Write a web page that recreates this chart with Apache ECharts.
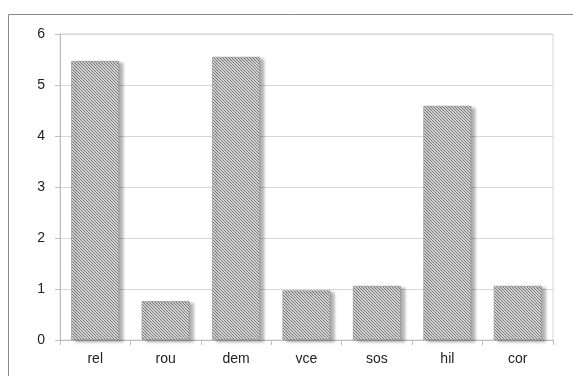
<!DOCTYPE html>
<html>
<head>
<meta charset="utf-8">
<script src="https://cdn.jsdelivr.net/npm/echarts@6/dist/echarts.min.js"></script>
<style>
  html, body { margin: 0; padding: 0; background: #fff; }
  #chart { width: 573px; height: 376px; }
</style>
</head>
<body>
<div id="chart"></div>
<script>
// Categories and values
const categories = ['rel', 'rou', 'dem', 'vce', 'sos', 'hil', 'cor'];
const values = [5.47, 0.76, 5.55, 0.97, 1.06, 4.59, 1.06];
const yTicks = [0, 1, 2, 3, 4, 5, 6];

// Fine diagonal hatch fill for the bars
function hatchPattern() {
  const c = document.createElement('canvas');
  c.width = 3; c.height = 3;
  const g = c.getContext('2d');
  g.fillStyle = '#d4d4d4';
  g.fillRect(0, 0, 3, 3);
  g.strokeStyle = '#6e6e6e';
  g.lineWidth = 0.9;
  g.beginPath();
  g.moveTo(-1, -1); g.lineTo(4, 4);
  g.moveTo(-1, 2); g.lineTo(1, 4);
  g.moveTo(2, -1); g.lineTo(4, 1);
  g.stroke();
  return c;
}

const chart = echarts.init(document.getElementById('chart'), null, { renderer: 'canvas' });
chart.setOption({
  animation: false,
  backgroundColor: '#fff',
  graphic: [{
    type: 'rect',
    shape: { x: 8.5, y: 14.5, width: 600, height: 400 },
    style: { fill: 'none', stroke: '#8a8a8a', lineWidth: 1 },
    silent: true
  }],
  grid: {
    left: 60, right: 20, top: 34, bottom: 36,
    show: true, borderColor: '#d6d6d6', borderWidth: 1
  },
  xAxis: {
    type: 'category',
    data: categories,
    axisLine: { show: true, lineStyle: { color: '#bdbdbd' } },
    axisTick: { show: true, length: 5, lineStyle: { color: '#bdbdbd' } },
    axisLabel: { color: '#222', fontFamily: 'Liberation Sans, Arial', fontSize: 14, margin: 12 }
  },
  yAxis: {
    type: 'value',
    min: 0, max: 6, interval: 1,
    axisLine: { show: true, lineStyle: { color: '#bdbdbd' } },
    axisTick: { show: true, length: 5, lineStyle: { color: '#bdbdbd' } },
    axisLabel: {
      color: '#222', fontFamily: 'Liberation Sans, Arial', fontSize: 14, margin: 15,
      formatter: v => yTicks.includes(v) ? String(v) : ''
    },
    splitLine: { show: true, lineStyle: { color: '#d6d6d6' } }
  },
  series: [{
    type: 'bar',
    data: values,
    barCategoryGap: '32%',
    itemStyle: {
      color: { image: hatchPattern(), repeat: 'repeat' },
      borderColor: '#8a8a8a',
      borderWidth: 0.6,
      shadowColor: 'rgba(0,0,0,0.3)',
      shadowBlur: 3,
      shadowOffsetX: 4,
      shadowOffsetY: 2
    }
  }]
});
</script>
</body>
</html>
